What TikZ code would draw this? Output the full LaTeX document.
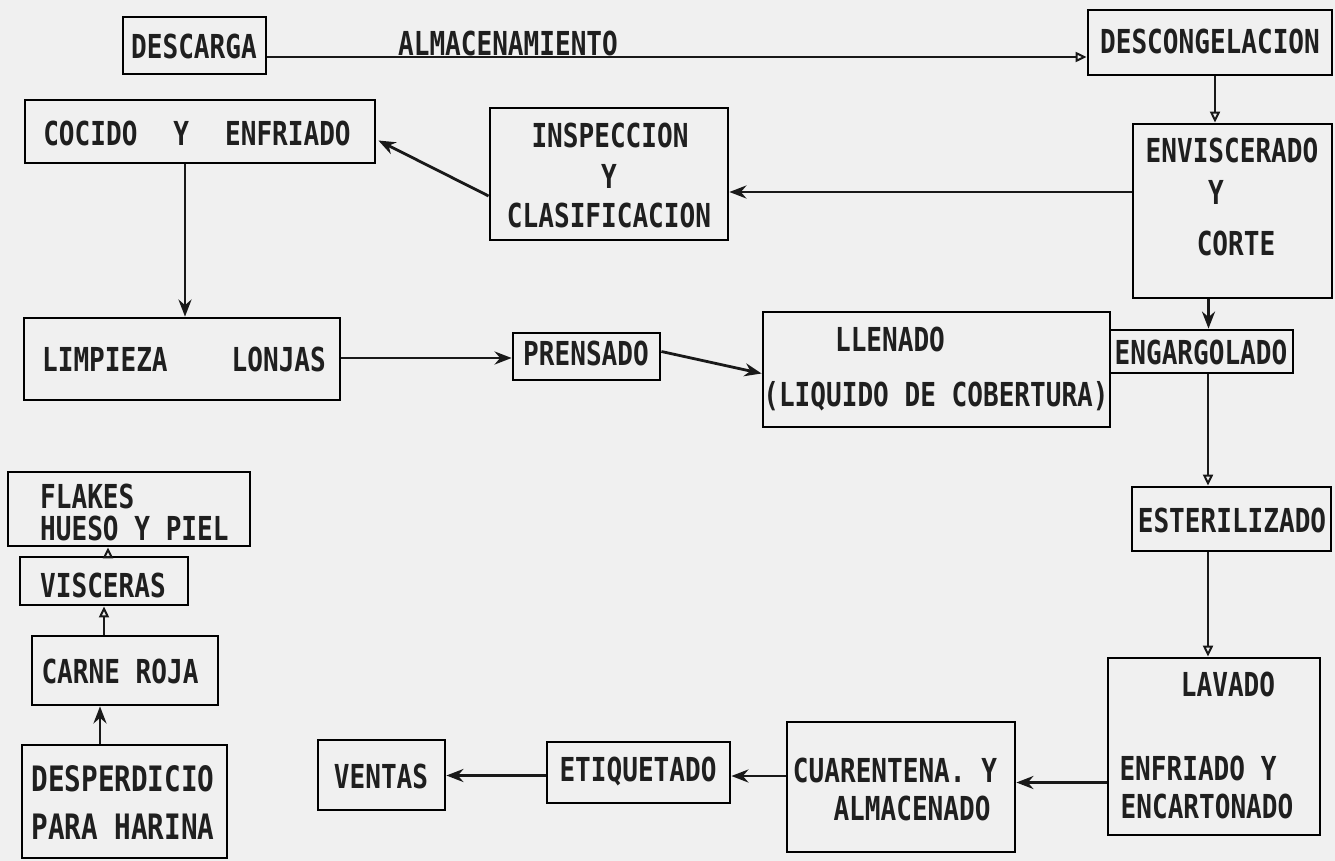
\documentclass[tikz,border=0pt]{standalone}
\usepackage{fontspec}
\setmainfont[FakeStretch=0.79]{DejaVu Sans Mono}
\usetikzlibrary{arrows.meta,calc}
\tikzset{
  box/.style={draw=black, line width=2.8pt, inner sep=0pt, fill=none},
  txt/.style={inner sep=0pt, font=\fontsize{33}{36}\selectfont\bfseries, text=black!88},
  bigtxt/.style={inner sep=0pt, font=\fontsize{35}{38}\selectfont\bfseries, text=black!88},
  conn/.style={line width=2.8pt, draw=black!90},
  openhead/.style={-{Triangle[open,length=11pt,width=10pt,line width=2pt]}},
  fullhead/.style={-{Stealth[length=17pt,width=13pt]}}
}
\begin{document}
\begin{tikzpicture}[x=1pt,y=-1pt]
\fill[black!6] (0,0) rectangle (1335,861);
\useasboundingbox (0,0) rectangle (1335,861);

% boxes
\node[box, minimum width=143, minimum height=57] (descarga) at (194.5,45.5) {};
\node[box, minimum width=244, minimum height=65] (descong) at (1210,42.5) {};
\node[box, minimum width=199, minimum height=174] (env) at (1232.5,211) {};
\node[box, minimum width=238, minimum height=132] (insp) at (609,174) {};
\node[box, minimum width=350, minimum height=63] (coc) at (200,131.5) {};
\node[box, minimum width=316, minimum height=82] (limp) at (182,359) {};
\node[box, minimum width=147, minimum height=47] (pren) at (586.5,356.5) {};
\node[box, minimum width=347, minimum height=115] (llen) at (936.5,369.5) {};
\node[box, minimum width=183, minimum height=43] (eng) at (1201.5,351.5) {};
\node[box, minimum width=199, minimum height=64] (est) at (1231.5,519) {};
\node[box, minimum width=212, minimum height=177] (lav) at (1214,746.5) {};
\node[box, minimum width=228, minimum height=130] (cuar) at (901,787) {};
\node[box, minimum width=183, minimum height=61] (eti) at (638.5,772.5) {};
\node[box, minimum width=127, minimum height=70] (vent) at (381.5,775) {};
\node[box, minimum width=205, minimum height=113] (desp) at (124.5,801.5) {};
\node[box, minimum width=186, minimum height=69] (carne) at (125,670.5) {};
\node[box, minimum width=168, minimum height=48] (visc) at (104,581) {};
\node[box, minimum width=242, minimum height=74] (flakes) at (129,509) {};

% texts
\node[txt] (tdescarga) at (194,46) {DESCARGA};
\node[txt] (talm) at (508,43) {ALMACENAMIENTO};
\node[txt] (tdescong) at (1210,41) {DESCONGELACION};
\node[txt] (tenv1) at (1232,150) {ENVISCERADO};
\node[txt] (tenv2) at (1216,192) {Y};
\node[txt] (tenv3) at (1236,243) {CORTE};
\node[txt] (tinsp1) at (610,135) {INSPECCION};
\node[txt] (tinsp2) at (609,176) {Y};
\node[txt] (tinsp3) at (609,215) {CLASIFICACION};
\node[txt] (tcoc) at (197,133) {COCIDO\hspace{36pt}Y\hspace{36pt}ENFRIADO};
\node[txt] (tlimp) at (184,359) {LIMPIEZA\hspace{64pt}LONJAS};
\node[txt] (tpren) at (586,353) {PRENSADO};
\node[txt] (tllen1) at (890,339) {LLENADO};
\node[txt] (tllen2) at (936,396) {(LIQUIDO DE COBERTURA)};
\node[txt] (teng) at (1201,352) {ENGARGOLADO};
\node[txt] (test) at (1232,520) {ESTERILIZADO};
\node[txt] (tlav1) at (1228,684) {LAVADO};
\node[txt] (tlav2) at (1198,768) {ENFRIADO Y};
\node[txt] (tlav3) at (1207,806) {ENCARTONADO};
\node[txt] (tcuar1) at (895,770) {CUARENTENA. Y};
\node[txt] (tcuar2) at (912,808) {ALMACENADO};
\node[txt] (teti) at (638,772) {ETIQUETADO};
\node[txt] (tvent) at (381,776) {VENTAS};
\node[bigtxt] (tdesp1) at (123,779) {DESPERDICIO};
\node[bigtxt] (tdesp2) at (123,827) {PARA HARINA};
\node[txt] (tcarne) at (120,671) {CARNE ROJA};
\node[txt] (tvisc) at (103,585) {VISCERAS};
\node[txt, anchor=west] (tfl1) at (40,496) {FLAKES};
\node[txt, anchor=west] (tfl2) at (40,528) {HUESO Y PIEL};

% connectors
\draw[conn, openhead] ($(descarga.east)+(0,11.5)$) coordinate (p1) -- (p1 -| descong.west);
\draw[conn, openhead] ($(descong.south)+(5,0)$) coordinate (p2) -- (p2 |- env.north);
\draw[conn, fullhead] ($(env.west)+(0,-19)$) coordinate (p3) -- (p3 -| insp.east);
\draw[conn, fullhead] ($(insp.west)+(0,22)$) -- ($(coc.east)+(2,9)$);
\draw[conn, fullhead] ($(coc.south)+(-15,0)$) coordinate (p4) -- (p4 |- limp.north);
\draw[conn, fullhead] ($(limp.east)+(0,-1)$) coordinate (p5) -- (p5 -| pren.west);
\draw[conn, fullhead] ($(pren.east)+(0,-5)$) -- ($(llen.west)+(0,4)$);
\draw[conn, fullhead] ($(env.south)+(-24,0)$) coordinate (p6) -- (p6 |- eng.north);
\draw[conn, openhead] ($(eng.south)+(6.5,0)$) coordinate (p7) -- (p7 |- est.north);
\draw[conn, openhead] ($(est.south)+(-23.5,0)$) coordinate (p8) -- (p8 |- lav.north);
\draw[conn, fullhead] ($(lav.west)+(0,36)$) coordinate (p12) -- (p12 -| cuar.east);
\draw[conn, fullhead] ($(cuar.west)+(0,-11)$) coordinate (p13) -- (p13 -| eti.east);
\draw[conn, fullhead] ($(eti.west)+(0,3)$) coordinate (p14) -- (p14 -| vent.east);
\draw[conn, fullhead] ($(desp.north)+(-24.5,0)$) coordinate (p9) -- (p9 |- carne.south);
\draw[conn, openhead] ($(carne.north)+(-21,0)$) coordinate (p10) -- (p10 |- visc.south);
\draw[conn, openhead] ($(visc.north)+(4,0)$) coordinate (p11) -- (p11 |- flakes.south);
\end{tikzpicture}
\end{document}
